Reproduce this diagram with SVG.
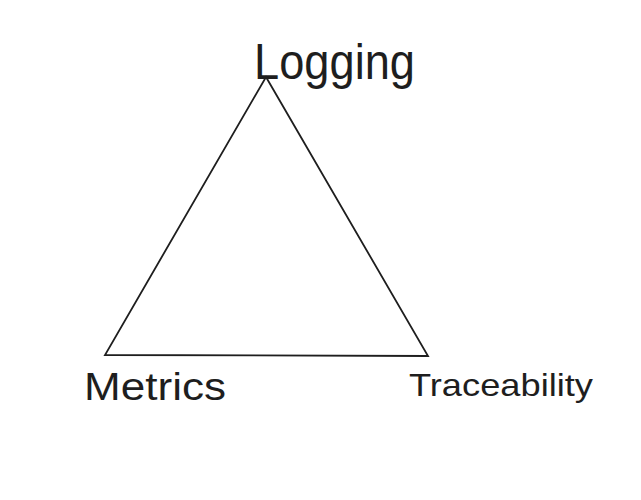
<svg xmlns="http://www.w3.org/2000/svg" width="641" height="500" viewBox="0 0 641 500">
<style>
.lbl{font-family:"Liberation Sans","DejaVu Sans",sans-serif;fill:#1e1e1e}
.edge{fill:none;stroke:#1e1e1e;stroke-width:1.8;stroke-linejoin:miter}
</style>
<rect width="641" height="500" fill="#ffffff"/>
<g id="connectors">
<path class="edge" d="M266 77 L428 356 L105 355 Z"/>
</g>
<g id="logging"><text class="lbl" x="254" y="79" font-size="50" textLength="161" lengthAdjust="spacingAndGlyphs">Logging</text></g>
<g id="metrics"><text class="lbl" x="84" y="400" font-size="38" textLength="142" lengthAdjust="spacingAndGlyphs">Metrics</text></g>
<g id="traceability"><text class="lbl" x="409" y="396" font-size="32" textLength="184" lengthAdjust="spacingAndGlyphs">Traceability</text></g>
</svg>
